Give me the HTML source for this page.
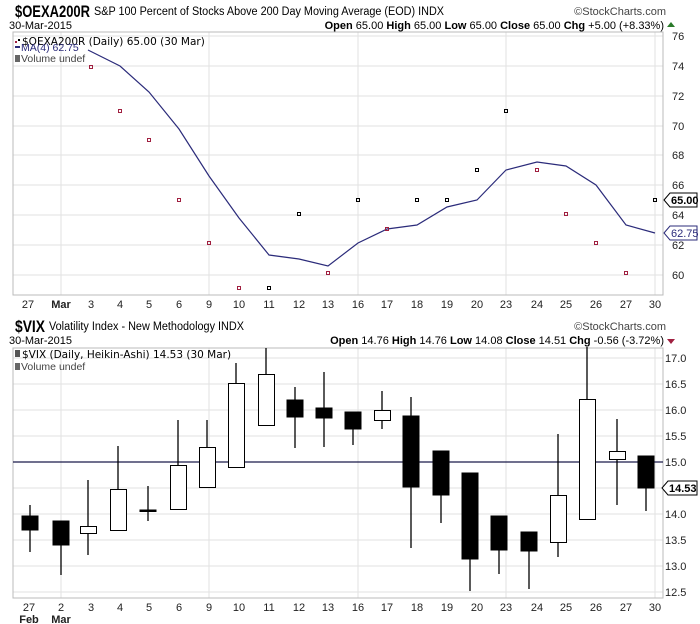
<!DOCTYPE html>
<html><head><meta charset="utf-8"><style>
body{margin:0;background:#fff;}
svg{display:block;font-family:"Liberation Sans",sans-serif;}
</style></head><body>
<svg width="700" height="624" viewBox="0 0 700 624" xmlns="http://www.w3.org/2000/svg">
<rect width="700" height="624" fill="#fff"/>
<!-- TOP HEADER -->
<text x="15" y="17" font-size="17" font-weight="bold" textLength="75" lengthAdjust="spacingAndGlyphs">$OEXA200R</text>
<text x="94" y="15" font-size="11.5" textLength="350" lengthAdjust="spacingAndGlyphs">S&amp;P 100 Percent of Stocks Above 200 Day Moving Average (EOD) INDX</text>
<text x="666" y="15" font-size="11" fill="#444" text-anchor="end">©StockCharts.com</text>
<text x="9" y="29" font-size="11">30-Mar-2015</text>
<text x="664" y="29" font-size="11" text-anchor="end"><tspan font-weight="bold">Open</tspan> 65.00 <tspan font-weight="bold">High</tspan> 65.00 <tspan font-weight="bold">Low</tspan> 65.00 <tspan font-weight="bold">Close</tspan> 65.00 <tspan font-weight="bold">Chg</tspan> +5.00 (+8.33%)</text>
<polygon points="667,27 675,27 671,22" fill="#2a7a2a"/>
<!-- TOP PANEL -->
<g stroke="#e2e2e2" stroke-width="1">
<line x1="13" y1="36" x2="663" y2="36"/><line x1="13" y1="66" x2="663" y2="66"/><line x1="13" y1="96" x2="663" y2="96"/><line x1="13" y1="126" x2="663" y2="126"/><line x1="13" y1="155" x2="663" y2="155"/><line x1="13" y1="185" x2="663" y2="185"/><line x1="13" y1="215" x2="663" y2="215"/><line x1="13" y1="245" x2="663" y2="245"/><line x1="13" y1="275" x2="663" y2="275"/>
<line x1="61" y1="32" x2="61" y2="295"/><line x1="209" y1="32" x2="209" y2="295"/><line x1="358" y1="32" x2="358" y2="295"/><line x1="506" y1="32" x2="506" y2="295"/><line x1="655" y1="32" x2="655" y2="295"/>
</g>
<rect x="13" y="32" width="650" height="263" fill="none" stroke="#bbb"/>
<polyline fill="none" stroke="#2b2b7a" stroke-width="1.2" points="88,50 120,66 149,92 179,129 209,176 239,218 269,255 299,259 328,266 358,243 387,229 417,225 447,207 477,200 506,170 537,162 566,166 596,185 626,225 655,233"/>
<g fill="none" stroke-width="1">
<rect x="89.5" y="65.5" width="3" height="3" stroke="#a02040"/>
<rect x="118.5" y="109.5" width="3" height="3" stroke="#a02040"/>
<rect x="147.5" y="138.5" width="3" height="3" stroke="#a02040"/>
<rect x="177.5" y="198.5" width="3" height="3" stroke="#a02040"/>
<rect x="207.5" y="241.5" width="3" height="3" stroke="#a02040"/>
<rect x="237.5" y="286.5" width="3" height="3" stroke="#a02040"/>
<rect x="267.5" y="286.5" width="3" height="3" stroke="#000"/>
<rect x="297.5" y="212.5" width="3" height="3" stroke="#000"/>
<rect x="326.5" y="271.5" width="3" height="3" stroke="#a02040"/>
<rect x="356.5" y="198.5" width="3" height="3" stroke="#000"/>
<rect x="385.5" y="227.5" width="3" height="3" stroke="#a02040"/>
<rect x="415.5" y="198.5" width="3" height="3" stroke="#000"/>
<rect x="445.5" y="198.5" width="3" height="3" stroke="#000"/>
<rect x="475.5" y="168.5" width="3" height="3" stroke="#000"/>
<rect x="504.5" y="109.5" width="3" height="3" stroke="#000"/>
<rect x="535.5" y="168.5" width="3" height="3" stroke="#a02040"/>
<rect x="564.5" y="212.5" width="3" height="3" stroke="#a02040"/>
<rect x="594.5" y="241.5" width="3" height="3" stroke="#a02040"/>
<rect x="624.5" y="271.5" width="3" height="3" stroke="#a02040"/>
<rect x="653.5" y="198.5" width="3" height="3" stroke="#000"/>
</g>
<g font-size="11" fill="#222">
<text x="672" y="40">76</text><text x="672" y="70">74</text><text x="672" y="100">72</text><text x="672" y="130">70</text><text x="672" y="159">68</text><text x="672" y="189">66</text><text x="672" y="219">64</text><text x="672" y="249">62</text><text x="672" y="279">60</text>
</g>
<polygon points="664,200 670,193 697,193 697,207 670,207" fill="#fff" stroke="#000"/>
<text x="671" y="204" font-size="11" font-weight="bold">65.00</text>
<polygon points="664,233 670,226 697,226 697,240 670,240" fill="#fff" stroke="#2b2b7a"/>
<text x="671" y="237" font-size="11" fill="#2b2b7a">62.75</text>
<text x="22" y="45" font-family="DejaVu Sans" font-size="10.5">$OEXA200R (Daily) 65.00 (30 Mar)</text>
<rect x="15" y="41" width="2" height="2" fill="#a02040"/><rect x="18" y="39" width="2" height="2" fill="#000"/>
<line x1="15" y1="47" x2="20" y2="47" stroke="#2b2b7a" stroke-width="2"/>
<text x="21" y="51" font-size="10.5" fill="#2b2b7a">MA(4) 62.75</text>
<text x="21" y="62" font-size="10.5" fill="#444">Volume undef</text>
<rect x="15" y="55" width="5" height="7" fill="#666"/>
<g font-size="11" fill="#222" text-anchor="middle">
<text x="28" y="308">27</text><text x="61" y="308" font-weight="bold">Mar</text><text x="91" y="308">3</text><text x="120" y="308">4</text><text x="149" y="308">5</text><text x="179" y="308">6</text><text x="209" y="308">9</text><text x="239" y="308">10</text><text x="269" y="308">11</text><text x="299" y="308">12</text><text x="328" y="308">13</text><text x="358" y="308">16</text><text x="387" y="308">17</text><text x="417" y="308">18</text><text x="447" y="308">19</text><text x="477" y="308">20</text><text x="506" y="308">23</text><text x="537" y="308">24</text><text x="566" y="308">25</text><text x="596" y="308">26</text><text x="626" y="308">27</text><text x="655" y="308">30</text>
</g>
<!-- BOTTOM HEADER -->
<text x="15" y="332" font-size="17" font-weight="bold" textLength="30" lengthAdjust="spacingAndGlyphs">$VIX</text>
<text x="49" y="330" font-size="11.5" textLength="195" lengthAdjust="spacingAndGlyphs">Volatility Index - New Methodology INDX</text>
<text x="666" y="330" font-size="11" fill="#444" text-anchor="end">©StockCharts.com</text>
<text x="9" y="344" font-size="11">30-Mar-2015</text>
<text x="664" y="344" font-size="11" text-anchor="end"><tspan font-weight="bold">Open</tspan> 14.76 <tspan font-weight="bold">High</tspan> 14.76 <tspan font-weight="bold">Low</tspan> 14.08 <tspan font-weight="bold">Close</tspan> 14.51 <tspan font-weight="bold">Chg</tspan> -0.56 (-3.72%)</text>
<polygon points="667,339 675,339 671,344" fill="#a02040"/>
<!-- BOTTOM PANEL -->
<g stroke="#e2e2e2">
<line x1="13" y1="358" x2="663" y2="358"/><line x1="13" y1="384" x2="663" y2="384"/><line x1="13" y1="410" x2="663" y2="410"/><line x1="13" y1="436" x2="663" y2="436"/><line x1="13" y1="488" x2="663" y2="488"/><line x1="13" y1="514" x2="663" y2="514"/><line x1="13" y1="540" x2="663" y2="540"/><line x1="13" y1="566" x2="663" y2="566"/><line x1="13" y1="592" x2="663" y2="592"/>
<line x1="61" y1="348" x2="61" y2="598"/><line x1="209" y1="348" x2="209" y2="598"/><line x1="358" y1="348" x2="358" y2="598"/><line x1="506" y1="348" x2="506" y2="598"/><line x1="655" y1="348" x2="655" y2="598"/>
</g>
<rect x="13" y="348" width="650" height="250" fill="none" stroke="#bbb"/>
<line x1="13" y1="462" x2="663" y2="462" stroke="#1a1a4a" stroke-width="1.2"/>
<g stroke="#000" stroke-width="1.3">
<line x1="30" y1="505" x2="30" y2="552"/><line x1="61" y1="521" x2="61" y2="575"/><line x1="88" y1="480" x2="88" y2="555"/><line x1="118" y1="446" x2="118" y2="530"/><line x1="148" y1="486" x2="148" y2="521"/><line x1="178" y1="420" x2="178" y2="509"/><line x1="207" y1="420" x2="207" y2="487"/><line x1="236" y1="363" x2="236" y2="467"/><line x1="266" y1="348" x2="266" y2="425"/><line x1="295" y1="387" x2="295" y2="448"/><line x1="324" y1="372" x2="324" y2="447"/><line x1="353" y1="412" x2="353" y2="445"/><line x1="382" y1="391" x2="382" y2="429"/><line x1="411" y1="397" x2="411" y2="548"/><line x1="441" y1="451" x2="441" y2="523"/><line x1="470" y1="473" x2="470" y2="591"/><line x1="499" y1="516" x2="499" y2="574"/><line x1="529" y1="532" x2="529" y2="589"/><line x1="558" y1="434" x2="558" y2="557"/><line x1="587" y1="347" x2="587" y2="519"/><line x1="617" y1="419" x2="617" y2="505"/><line x1="646" y1="456" x2="646" y2="511"/>
</g>
<g stroke="#000" stroke-width="1">
<rect x="22" y="516" width="16" height="14" fill="#000"/>
<rect x="53" y="521" width="16" height="24" fill="#000"/>
<rect x="80.5" y="526.5" width="16" height="7" fill="#fff"/>
<rect x="110.5" y="489.5" width="16" height="41" fill="#fff"/>
<rect x="140" y="510" width="16" height="1.5" fill="#000"/>
<rect x="170.5" y="465.5" width="16" height="44" fill="#fff"/>
<rect x="199.5" y="447.5" width="16" height="40" fill="#fff"/>
<rect x="228.5" y="383.5" width="16" height="84" fill="#fff"/>
<rect x="258.5" y="374.5" width="16" height="51" fill="#fff"/>
<rect x="287" y="400" width="16" height="17" fill="#000"/>
<rect x="316" y="408" width="16" height="10" fill="#000"/>
<rect x="345" y="412" width="16" height="17" fill="#000"/>
<rect x="374.5" y="410.5" width="16" height="10" fill="#fff"/>
<rect x="403" y="416" width="16" height="71" fill="#000"/>
<rect x="433" y="451" width="16" height="44" fill="#000"/>
<rect x="462" y="473" width="16" height="86" fill="#000"/>
<rect x="491" y="516" width="16" height="34" fill="#000"/>
<rect x="521" y="532" width="16" height="19" fill="#000"/>
<rect x="550.5" y="495.5" width="16" height="47" fill="#fff"/>
<rect x="579.5" y="399.5" width="16" height="120" fill="#fff"/>
<rect x="609.5" y="451.5" width="16" height="8" fill="#fff"/>
<rect x="638" y="456" width="16" height="32" fill="#000"/>
</g>
<g font-size="11" fill="#222">
<text x="665" y="362">17.0</text><text x="665" y="388">16.5</text><text x="665" y="414">16.0</text><text x="665" y="440">15.5</text><text x="665" y="466">15.0</text><text x="665" y="518">14.0</text><text x="665" y="544">13.5</text><text x="665" y="570">13.0</text><text x="665" y="596">12.5</text>
</g>
<polygon points="662,488 668,481 697,481 697,495 668,495" fill="#fff" stroke="#000"/>
<text x="669" y="492" font-size="11" font-weight="bold">14.53</text>
<text x="22" y="358" font-family="DejaVu Sans" font-size="10.5">$VIX (Daily, Heikin-Ashi) 14.53 (30 Mar)</text>
<rect x="15" y="350" width="5" height="7" fill="#555"/>
<text x="21" y="370" font-size="10.5" fill="#444">Volume undef</text>
<rect x="15" y="363" width="5" height="7" fill="#666"/>
<g font-size="11" fill="#222" text-anchor="middle">
<text x="29" y="611">27</text><text x="61" y="611">2</text><text x="91" y="611">3</text><text x="120" y="611">4</text><text x="149" y="611">5</text><text x="179" y="611">6</text><text x="209" y="611">9</text><text x="239" y="611">10</text><text x="269" y="611">11</text><text x="299" y="611">12</text><text x="328" y="611">13</text><text x="358" y="611">16</text><text x="387" y="611">17</text><text x="417" y="611">18</text><text x="447" y="611">19</text><text x="477" y="611">20</text><text x="506" y="611">23</text><text x="537" y="611">24</text><text x="566" y="611">25</text><text x="596" y="611">26</text><text x="626" y="611">27</text><text x="655" y="611">30</text>
<text x="29" y="623" font-weight="bold">Feb</text><text x="61" y="623" font-weight="bold">Mar</text>
</g>
</svg>
</body></html>
